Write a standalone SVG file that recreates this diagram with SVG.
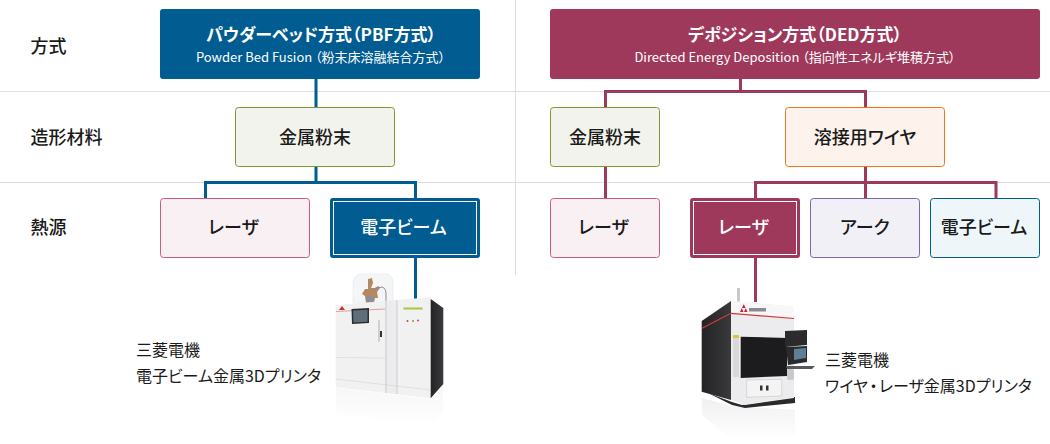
<svg xmlns="http://www.w3.org/2000/svg" width="1050" height="444" viewBox="0 0 1050 444">
<style>
text{font-family:"Noto Sans CJK JP","Noto Sans",sans-serif;fill:#1a1a1a;font-feature-settings:"palt"}
.lab{font-size:18px;font-weight:500}
.row{font-size:18px;font-weight:500}
.t{font-size:17px;font-weight:700;fill:#fff;text-anchor:middle}
.s{font-size:13px;font-weight:400;fill:#fff;text-anchor:middle}
.c{text-anchor:middle}
.w{fill:#fff}
.cap{font-size:16px;font-weight:400}
.grid{stroke:#ddd;stroke-width:1;fill:none}
.b{stroke:#005c91;stroke-width:3;fill:none}
.m{stroke:#9e395b;stroke-width:3;fill:none}
</style>
<defs>
<linearGradient id="fade" x1="0" y1="0" x2="0" y2="1"><stop offset="0" stop-color="#e6e6e9"/><stop offset="1" stop-color="#fff"/></linearGradient>
<linearGradient id="side" x1="0" y1="0" x2="1" y2="0"><stop offset="0" stop-color="#232325"/><stop offset="1" stop-color="#3a3a3c"/></linearGradient>
</defs>
<g id="grid">
<path class="grid" d="M0 91.5H1050M0 182.5H1050M515.500 0V275"/>
</g>
<g id="row-labels">
<text class="row" x="30.5" y="52.500">方式</text>
<text class="row" x="30.5" y="143.500">造形材料</text>
<text class="row" x="30.5" y="233.500">熱源</text>
</g>
<g id="connectors">
<path class="b" d="M316 79V107M316 167V182M205.500 198V182.500H415.500V198M415.500 258V302"/>
<path class="m" d="M740.500 79V91M605.500 107V91.500H865.500V107M605.500 167V198M865.500 167V198M755.500 198V182.500H996V198M755.500 258V302"/>
</g>
<g id="pbf"><rect x="160" y="9" width="320" height="70" rx="3" fill="#005c91"/>
<text class="t" x="321" y="40.500">パウダーベッド方式（PBF方式）</text>
<text class="s" x="320.500" y="62">Powder Bed Fusion （粉末床溶融結合方式）</text></g>
<g id="ded"><rect x="550" y="9" width="490" height="70" rx="3" fill="#9e395b"/>
<text class="t" x="795" y="40.500">デポジション方式（DED方式）</text>
<text class="s" x="795" y="62">Directed Energy Deposition （指向性エネルギ堆積方式）</text></g>
<g id="pbf-powder"><rect x="235.500" y="107.500" width="159" height="59" rx="3" fill="#f2f3ec" stroke="#7b9a33"/>
<text class="lab c" x="315" y="143.500">金属粉末</text></g>
<g id="ded-powder"><rect x="550.500" y="107.500" width="109" height="59" rx="3" fill="#f2f3ec" stroke="#7b9a33"/>
<text class="lab c" x="605" y="143.500">金属粉末</text></g>
<g id="ded-wire"><rect x="785.500" y="107.500" width="159" height="59" rx="3" fill="#fdf2ec" stroke="#e8781a"/>
<text class="lab c" x="865" y="143.500">溶接用ワイヤ</text></g>
<g id="pbf-laser"><rect x="160.500" y="198.500" width="149" height="59" rx="3" fill="#f9f0f4" stroke="#cc5b8a"/>
<text class="lab c" x="233.500" y="233.500">レーザ</text></g>
<g id="pbf-ebeam"><rect x="330" y="198" width="150" height="60" rx="3" fill="#005c91"/><rect x="333.500" y="201.500" width="143" height="53" fill="none" stroke="#fff"/>
<text class="lab c w" x="403.500" y="233.500">電子ビーム</text></g>
<g id="ded-laser"><rect x="550.500" y="198.500" width="109" height="59" rx="3" fill="#f9f0f4" stroke="#cc5b8a"/>
<text class="lab c" x="603.500" y="233.500">レーザ</text></g>
<g id="ded-laser-sel"><rect x="690" y="198" width="110" height="60" rx="3" fill="#9e395b"/><rect x="693.500" y="201.500" width="103" height="53" fill="none" stroke="#fff"/>
<text class="lab c w" x="743.500" y="233.500">レーザ</text></g>
<g id="ded-arc"><rect x="810.500" y="198.500" width="109" height="59" rx="3" fill="#f2f0f7" stroke="#7f64ad"/>
<text class="lab c" x="865" y="233.500">アーク</text></g>
<g id="ded-ebeam"><rect x="930.500" y="198.500" width="109" height="59" rx="3" fill="#eef6fa" stroke="#005c91"/>
<text class="lab c" x="984" y="233.500">電子ビーム</text></g>
<g id="printer-ebeam">
<polygon points="336,388 431,399 443,385 443,412 431,425 336,414" fill="url(#fade)" opacity=".35"/>
<path d="M353 303V284Q353 275 361 274L387 274Q393 275 393 284V303Z" fill="#f4f5f6" stroke="#e8e9eb" stroke-width=".7"/>
<path d="M368 279l4 -1 1 5 -2 5 4 0 3 -2 2 2 -3 4 1 6h-3l-1 5h-8l-1-7-3-2 3-5h3z" fill="#b48862"/>
<rect x="366" y="296" width="8" height="6" fill="#8f8f92"/>
<path d="M372 289L382 287Q386 288 386 294V302" fill="none" stroke="#8c8c90" stroke-width="1"/>
<polygon points="335.700,305 430.700,297.300 430.700,398.300 335.700,387.300" fill="#f1f1f2"/>
<polygon points="385,301 397,300 397,394 385,392.800" fill="#ececee"/>
<path d="M336 357.500L385 358M335.700 379L430.700 390" stroke="#d4d4d6" stroke-width=".6" fill="none"/>
<path d="M386 301V393M397 300V394" stroke="#bdbdc0" stroke-width=".7" fill="none"/>
<polygon points="430.700,299 443.300,308 443.300,384 430.700,398.300" fill="url(#side)"/>
<path d="M336 311.500L385 309" stroke="#d98c8c" stroke-width=".8" fill="none"/>
<polygon points="351.500,309 369,308 369,323 352,324" fill="#2d2d30"/><polygon points="353,310.500 367.500,309.700 367.500,321.800 353.500,322.500" fill="#5e6e7a"/>
<polygon points="339,310 342,306 345,310" fill="#c23434"/>
<rect x="378" y="320" width="2" height="22" rx="1" fill="#cfcfd2"/><rect x="380" y="331" width="2" height="6" fill="#333"/>
<rect x="403.500" y="307.500" width="19" height="2" fill="#a5c83c"/>
<circle cx="407.500" cy="321" r="1" fill="#d24040"/><circle cx="413" cy="321" r="1" fill="#6ca53a"/><circle cx="418" cy="320.500" r="1" fill="#d24040"/>
</g>
<g id="printer-laser">
<polygon points="702,398 732,406 795,410 795,436 732,440 702,415" fill="url(#fade)" opacity=".6"/>
<polygon points="708,393 732,402 742,405 795,397 795,403 745,408 732,405" fill="#2a2a2d"/>
<rect x="737" y="288" width="3" height="14" fill="#c9c9cc"/>
<polygon points="701.700,321 731,301 731,400 701.700,391.700" fill="url(#side)"/>
<path d="M702 328.300L731 313.300" stroke="#d13a3a" stroke-width="1.2" fill="none"/>
<path d="M731 301L792 306.500Q794 307 794 310V398L745 405L731 400Z" fill="#ececee"/>
<path d="M731 301L792 306.500Q794 307 794 310V318L731 313Z" fill="#f7f7f8"/>
<path d="M731 313.300L794 318.500" stroke="#d13a3a" stroke-width="1.2" fill="none"/>
<polygon points="740.700,336.700 787,338 787,376 740.700,378" fill="#1c1c1f"/>
<rect x="733" y="335" width="6" height="42" fill="#d9d9db"/><rect x="733" y="335" width="6" height="3" fill="#d9c24a"/>
<polygon points="746.700,380 781.700,379.300 781.700,396 746.700,397.300" fill="#f4f4f5" stroke="#c4c4c7" stroke-width=".6"/>
<rect x="760" y="385.500" width="2.500" height="5" fill="#333"/><rect x="766" y="385.500" width="2.500" height="5" fill="#333"/>
<polygon points="742,308 745.500,308 743.800,304" fill="#c8202a"/><polygon points="740,312 743.500,312 741.800,308" fill="#c8202a"/><polygon points="744,312 747.500,312 745.800,308" fill="#c8202a"/>
<rect x="749" y="308" width="17" height="3.500" fill="#8b8b8f"/>
<polygon points="785,331 807,330 807,345 785,347" fill="#2b2b2e"/>
<polygon points="786,347 807,346 807,362 788,365" fill="#2a2a2d"/><polygon points="794,349 806,348 806,358 794,360" fill="#5f7f95"/>
<polygon points="786,366 815,366 812,369 787,369" fill="#55585c"/>
<rect x="787" y="369" width="7" height="11" rx="2" fill="#c9c9cc"/>
</g>
<g id="captions">
<text class="cap" x="136" y="356">三菱電機</text>
<text class="cap" x="136" y="381.500">電子ビーム金属3Dプリンタ</text>
<text class="cap" x="825" y="366">三菱電機</text>
<text class="cap" x="825" y="391.500">ワイヤ<tspan dx="1.5">・</tspan><tspan dx="1.5">レーザ金属3Dプリンタ</tspan></text>
</g>
</svg>
